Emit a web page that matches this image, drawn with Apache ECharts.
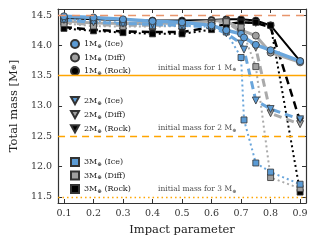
<!DOCTYPE html>
<html><head><meta charset="utf-8">
<script src="https://cdn.jsdelivr.net/npm/echarts@6/dist/echarts.min.js"></script>
<style>html,body{margin:0;padding:0;background:#fff}#c{width:318px;height:246px}</style>
</head><body><div id="c"></div>
<script>
// impact parameters
const bIce = [0.1,0.2,0.3,0.4,0.5,0.6,0.65,0.7,0.71,0.75,0.8,0.9];
const bOther = [0.1,0.2,0.3,0.4,0.5,0.6,0.65,0.7,0.75,0.8,0.9];
// total masses
const ice1 = [14.48,14.46,14.43,14.40,14.38,14.33,14.25,14.19,14.13,14.01,13.92,13.74];
const ice2 = [14.42,14.38,14.36,14.35,14.33,14.30,14.20,14.03,13.93,13.09,12.95,12.78];
const ice3 = [14.43,14.41,14.37,14.33,14.32,14.31,14.22,13.80,12.77,12.06,11.91,11.71];
const diff1 = [14.40,14.37,14.36,14.36,14.37,14.40,14.41,14.25,14.16,13.88,13.72];
const diff2 = [14.38,14.34,14.33,14.33,14.34,14.37,14.39,14.22,13.96,12.88,12.70];
const diff3 = [14.36,14.32,14.31,14.31,14.32,14.36,14.39,14.30,13.65,11.82,11.64];
const rock1 = [14.45,14.43,14.42,14.41,14.41,14.42,14.43,14.43,14.41,14.33,13.74];
const rock2 = [14.30,14.26,14.23,14.22,14.22,14.30,14.35,14.38,14.37,14.30,12.75];
const rock3 = [14.28,14.24,14.21,14.19,14.19,14.26,14.33,14.37,14.38,14.33,11.58];
// reference lines
const initMasses = [13.5, 12.5, 11.5];
const initLabels = ['initial mass for 1 M', 'initial mass for 2 M', 'initial mass for 3 M'];
const topLine = 14.5;
const xTicks = [0.1,0.2,0.3,0.4,0.5,0.6,0.7,0.8,0.9];
const yTicks = [11.5,12.0,12.5,13.0,13.5,14.0,14.5];
const legendNames = [['1M⊕ (Ice)','1M⊕ (Diff)','1M⊕ (Rock)'],['2M⊕ (Ice)','2M⊕ (Diff)','2M⊕ (Rock)'],['3M⊕ (Ice)','3M⊕ (Diff)','3M⊕ (Rock)']];

const FONT = 'DejaVu Serif';
const BLUE = '#5b9bd5', BLUEL = '#6aa6dc', GRAY = '#a0a0a0', GRAYL = '#aaaaaa', BLACK = '#000';
const DOWN = 'path://M0,0 L10,0 L5,9 Z';
const zip = (a, b) => a.map((v, i) => [v, b[i]]);

function mk(name, xs, ys, color, lineColor, symbol, size, lw, ltype) {
  return {
    type: 'line', name, data: zip(xs, ys), symbol, symbolSize: size,
    itemStyle: {color, borderColor: '#333', borderWidth: 0.8},
    lineStyle: {color: lineColor, width: lw, type: ltype},
    emphasis: {disabled: true}, animation: false, z: 3
  };
}
const series = [
  mk(legendNames[0][2], bOther, rock1, BLACK, BLACK, 'circle', 7, 2, 'solid'),
  mk(legendNames[1][2], bOther, rock2, BLACK, BLACK, DOWN, 7, 2.5, [8,5]),
  mk(legendNames[2][2], bOther, rock3, BLACK, BLACK, 'rect', 6, 2, [2,3]),
  mk(legendNames[0][1], bOther, diff1, GRAY, GRAYL, 'circle', 7, 3, 'solid'),
  mk(legendNames[1][1], bOther, diff2, GRAY, GRAYL, DOWN, 7, 3, [8,5]),
  mk(legendNames[2][1], bOther, diff3, GRAY, GRAYL, 'rect', 6, 2, [2,3]),
  mk(legendNames[2][0], bIce, ice3, BLUE, BLUEL, 'rect', 6, 2, [2,3]),
  mk(legendNames[1][0], bIce, ice2, BLUE, BLUEL, DOWN, 7, 3, [8,5]),
  mk(legendNames[0][0], bIce, ice1, BLUE, BLUEL, 'circle', 7, 3.5, 'solid'),
];
// reference lines, one series each
const refStyles = [
  {v: topLine, color: '#e8956b', width: 1.3, type: [8,6]},
  {v: initMasses[0], color: '#ffa500', width: 1.3, type: [400,1]},
  {v: initMasses[1], color: '#ffa500', width: 1.3, type: [7,5]},
  {v: initMasses[2], color: '#ffa500', width: 1.4, type: [1.5,3]},
];
refStyles.forEach((r, i) => series.push({
  type: 'line', name: 'ref' + i, data: [], silent: true, animation: false, z: 1,
  itemStyle: {color: r.color},
  markLine: {symbol: 'none', silent: true, animation: false, label: {show: false},
    lineStyle: {color: r.color, width: r.width, type: r.type, opacity: 1},
    emphasis: {disabled: true},
    data: [{yAxis: r.v, lineStyle: {color: r.color}}]}
}));
series.push({
  type: 'scatter', name: 'ann', symbolSize: 0, silent: true, animation: false,
  data: initMasses.map((m, i) => ({value: [0.419, m], txt: initLabels[i]})),
  label: {
    show: true, position: [0, -3], align: 'left', verticalAlign: 'bottom',
    formatter: p => `{n|${p.data.txt}}{s|⊕}`,
    rich: {n: {fontFamily: FONT, fontSize: 7.5, color: '#222'}, s: {fontFamily: FONT, fontSize: 5, color: '#222', padding: [5,0,0,0]}}
  }
});

const legendRich = {n: {fontFamily: FONT, fontSize: 8, color: '#222'}, s: {fontFamily: FONT, fontSize: 5.5, color: '#222', padding: [5,0,0,0]}};
const icons = ['circle', DOWN, 'rect'];
const legTops = [34, 91, 152];
const legGaps = [3, 4, 3];
const legends = legendNames.map((g, gi) => ({
  orient: 'vertical', left: 65, top: legTops[gi], itemWidth: 8, itemHeight: 8, itemGap: legGaps[gi],
  data: g.map(n => ({name: n, icon: icons[gi]})),
  formatter: n => { const m = n.match(/^(\d)M⊕ (.*)$/); return `{n|${m[1]}M}{s|⊕}{n| ${m[2]}}`; },
  textStyle: {rich: legendRich}, selectedMode: false
}));

const axisLine = {show: true, lineStyle: {color: '#333', width: 1.2}};
const chart = echarts.init(document.getElementById('c'), null, {renderer: 'canvas'});
chart.setOption({
  animation: false,
  grid: {left: 56, right: 12, top: 9, bottom: 43},
  legend: legends,
  xAxis: [
    {type: 'value', min: 0.08, max: 0.92, name: 'Impact parameter', nameLocation: 'middle', nameGap: 20,
     nameTextStyle: {fontFamily: FONT, fontSize: 11.5, color: '#222'},
     axisLine, splitLine: {show: false},
     axisTick: {inside: true, length: 4, customValues: xTicks, lineStyle: {color: '#333'}},
     axisLabel: {customValues: xTicks, fontFamily: FONT, fontSize: 9.5, color: '#333', margin: 6, formatter: v => v.toFixed(1)}},
    {type: 'value', min: 0.08, max: 0.92, position: 'top', axisLine, splitLine: {show: false},
     axisTick: {inside: true, length: 4, customValues: xTicks, lineStyle: {color: '#333'}},
     axisLabel: {show: false}}
  ],
  yAxis: [
    {type: 'value', min: 11.4, max: 14.6, name: 'Total mass [M{s|⊕}]', nameLocation: 'middle', nameGap: 36,
     nameTextStyle: {fontFamily: FONT, fontSize: 11.5, color: '#222', rich: {s: {fontFamily: FONT, fontSize: 7, color: '#222'}}},
     axisLine, splitLine: {show: false},
     axisTick: {inside: true, length: 4, customValues: yTicks, lineStyle: {color: '#333'}},
     axisLabel: {customValues: yTicks, fontFamily: FONT, fontSize: 9.5, color: '#333', margin: 6, formatter: v => v.toFixed(1)}},
    {type: 'value', min: 11.4, max: 14.6, position: 'right', axisLine, splitLine: {show: false},
     axisTick: {inside: true, length: 4, customValues: yTicks, lineStyle: {color: '#333'}},
     axisLabel: {show: false}}
  ],
  series
});
</script></body></html>
